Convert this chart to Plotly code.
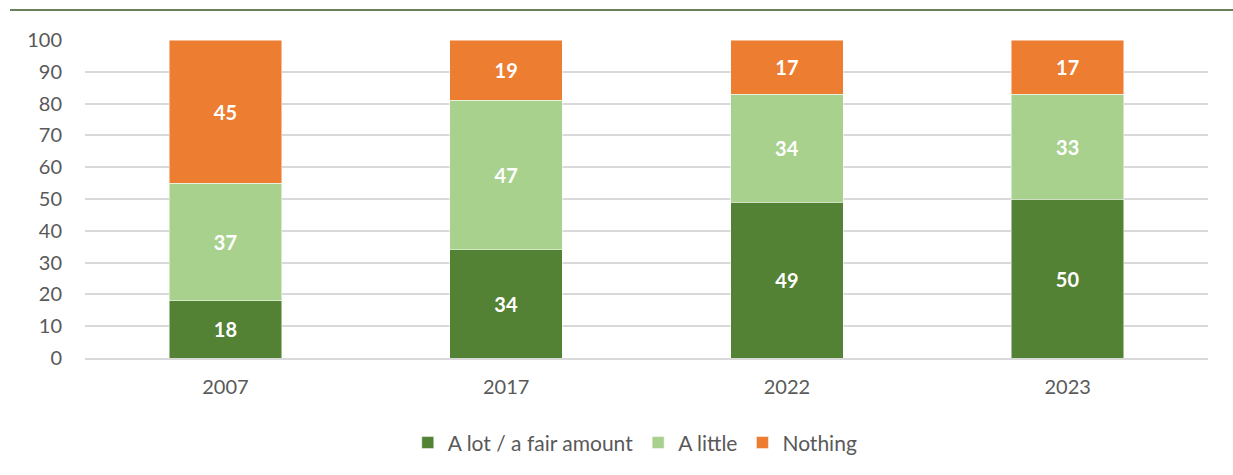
import plotly.graph_objects as go

years = ["2007", "2017", "2022", "2023"]
a_lot = [18, 34, 49, 50]
a_little = [37, 47, 34, 33]
nothing = [45, 19, 17, 17]

series = [
    ("A lot / a fair amount", a_lot, "#548235"),
    ("A little", a_little, "#A9D18E"),
    ("Nothing", nothing, "#ED7D31"),
]

fig = go.Figure()
for name, vals, color in series:
    fig.add_trace(go.Bar(
        x=years, y=vals, name=name,
        marker=dict(color=color, line=dict(color="rgba(255,255,255,0.6)", width=0.8)),
        text=[str(v) for v in vals],
        textposition="inside", insidetextanchor="middle",
        textfont=dict(family="Lato", size=20, color="white", weight="bold"),
        width=0.4,
    ))

fig.update_layout(
    barmode="stack",
    width=1233, height=475,
    margin=dict(l=85, r=25, t=40, b=117),
    plot_bgcolor="white", paper_bgcolor="white",
    font=dict(family="Lato", size=20, color="#595959"),
    legend=dict(orientation="h", x=0.49, xanchor="center", y=-0.267, yanchor="middle",
                traceorder="normal", itemwidth=30,
                font=dict(size=21, color="#595959"), itemclick=False),
    showlegend=True,
    uniformtext=dict(mode=False),
)
fig.update_yaxes(range=[0, 100], dtick=10, showgrid=True, gridcolor="#D9D9D9", gridwidth=1.5,
                 zeroline=False, showline=False, ticks="", ticklabelstandoff=22)
fig.update_xaxes(showline=True, linecolor="#D9D9D9", linewidth=1.5, ticks="", ticklabelstandoff=10)

fig.add_shape(type="line", xref="paper", yref="paper", x0=-0.0668, x1=1.0223, y0=1.0943, y1=1.0943,
              line=dict(color="#375623", width=1.5))

fig.write_html("out.html")
